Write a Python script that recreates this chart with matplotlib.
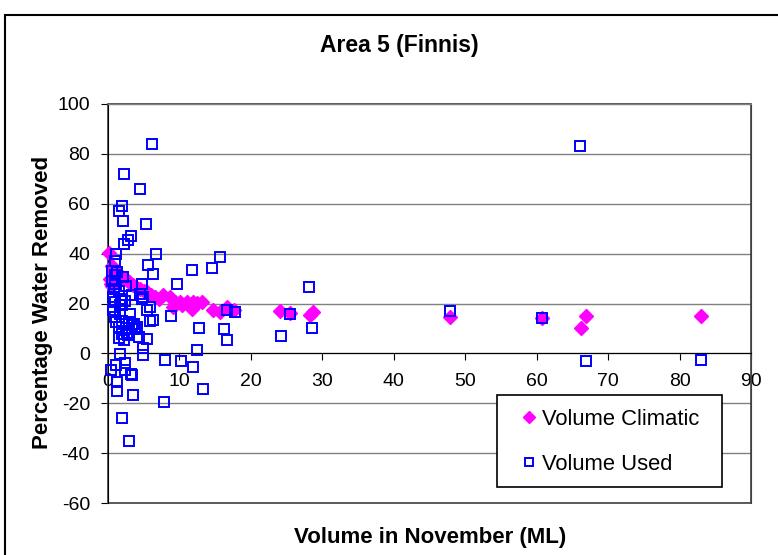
import matplotlib
matplotlib.use("Agg")
import matplotlib.pyplot as plt
from matplotlib.patches import Rectangle

# Volume Climatic (magenta diamonds)
clim_x = [0.1, 0.5, 0.7, 1.0, 1.2, 1.7, 2.2, 2.6, 3.0, 3.5, 4.0, 4.5, 5.0, 5.4,
          6.0, 6.6, 7.2, 7.7, 8.7, 9.1, 9.4, 10.1, 10.3, 11.0, 11.7, 11.9, 12.5,
          13.2, 14.7, 15.7, 16.6, 17.6, 24.1, 25.5, 28.3, 28.7, 47.9, 60.7, 66.2,
          66.9, 83.0, 0.3, 0.4, 0.6, 0.8, 1.3]
clim_y = [40.3, 35.0, 33.0, 32.5, 31.8, 31.3, 30.3, 29.3, 28.5, 27.3, 26.2, 25.9,
          25.0, 24.6, 23.5, 22.6, 22.0, 23.3, 22.6, 18.6, 20.6, 20.6, 19.5, 20.6,
          17.9, 20.6, 20.2, 20.6, 17.2, 16.4, 18.6, 17.4, 17.0, 16.2, 15.4, 16.5,
          14.5, 14.0, 10.1, 14.8, 14.8, 30.0, 28.0, 27.0, 29.0, 28.5]

# Volume Used (blue hollow squares)
used_x = [6.1, 66.1, 2.3, 4.5, 1.9, 1.6, 2.1, 5.3, 3.2, 2.8, 2.3, 1.1, 6.7, 1.0,
          5.6, 15.7, 11.7, 14.6, 6.3, 9.6, 28.2, 47.9, 60.7, 66.9, 83.0, 25.5,
          16.6, 17.8, 24.2, 28.6, 16.2, 16.6, 12.7, 12.5, 10.2, 8.0, 11.9, 13.3,
          7.9, 3.5, 1.9, 2.9, 1.3, 1.2, 0.4, 1.1, 2.4, 2.4, 3.2, 3.4, 1.7, 4.9,
          4.9, 5.4, 4.4, 2.8, 2.2, 1.5, 3.8, 3.4, 2.6, 1.9, 1.1, 1.0, 1.7, 3.1,
          3.6, 4.1, 8.8, 5.9, 6.3, 5.9, 5.5, 4.7, 4.5, 3.4, 4.9, 1.0, 0.7, 1.9,
          0.7, 1.7, 4.7, 1.0, 1.0, 2.1, 0.8, 1.5, 0.5, 2.5, 1.8, 0.6, 1.3, 2.4,
          3.0, 2.0, 2.5, 1.5]
used_y = [84.0, 83.0, 72.0, 66.0, 59.0, 57.0, 53.0, 52.0, 47.0, 45.5, 44.0, 40.0,
          40.0, 37.0, 35.3, 38.6, 33.6, 34.3, 31.7, 27.8, 26.6, 17.0, 14.0, -3.2,
          -2.8, 15.8, 17.5, 16.6, 7.1, 10.0, 9.6, 5.2, 10.2, 1.2, -2.9, -2.8, -5.6,
          -14.3, -19.5, -16.7, -25.9, -35.2, -15.0, -11.5, -6.5, -4.8, -3.8, -6.8,
          -8.4, -8.8, -0.3, -0.8, 2.3, 5.9, 6.5, 7.2, 5.2, 6.0, 9.9, 11.3, 8.3,
          7.9, 12.6, 14.6, 15.9, 15.9, 11.9, 10.5, 15.1, 18.6, 13.5, 13.0, 17.2,
          22.0, 24.0, 23.3, 22.6, 20.6, 22.6, 19.2, 17.2, 19.5, 27.7, 28.0, 31.3,
          30.6, 26.0, 25.0, 29.0, 27.0, 22.0, 33.0, 32.5, 21.0, 12.5, 13.0, 10.0,
          10.5]

x_ticks = list(range(0, 91, 10))
y_ticks = list(range(-60, 101, 20))

plt.rcParams.update({'font.family': ['Liberation Sans', 'DejaVu Sans']})
plt.rcParams['axes.unicode_minus'] = False

fig = plt.figure(figsize=(7.78, 5.55), dpi=100)
ax = fig.add_axes([108 / 778, 1 - 503 / 555, 643 / 778, 399 / 555])

ax.plot(clim_x, clim_y, linestyle='none', marker='D', markersize=7.2,
        color='#FF00FF', markeredgecolor='#FF00FF', label='Volume Climatic',
        zorder=3, clip_on=False)
ax.plot(used_x, used_y, linestyle='none', marker='s', markersize=7,
        markerfacecolor='none', markeredgecolor='#0000FF', markeredgewidth=1.4,
        label='Volume Used', zorder=4, clip_on=False)

ax.set_xlim(0, 90)
ax.set_ylim(-60, 100)
ax.set_xticks(x_ticks)
ax.set_yticks(y_ticks)
ax.yaxis.grid(True, color='#808080', linewidth=1)
ax.set_axisbelow(True)

ax.spines['bottom'].set_position(('data', 0))
ax.spines['bottom'].set_color('black')
ax.spines['left'].set_color('black')
ax.spines['top'].set_color('#808080')
ax.spines['right'].set_color('#404040')
ax.add_patch(Rectangle((0, 0), 1, 1, transform=ax.transAxes, fill=False,
                       edgecolor='#404040', linewidth=1.2, clip_on=False, zorder=1))
ax.tick_params(axis='both', direction='out', length=5, labelsize=14, color='black')
ax.tick_params(axis='x', pad=9)
ax.tick_params(axis='y', pad=8)

fig.text(399 / 778, 1 - 45 / 555, 'Area 5 (Finnis)', ha='center', va='center',
         fontsize=16.5, fontweight='bold')
fig.text(430 / 778, 1 - 537 / 555, 'Volume in November (ML)', ha='center', va='center',
         fontsize=16, fontweight='bold')
fig.text(43 / 778, 1 - 302 / 555, 'Percentage Water Removed', ha='center', va='center',
         rotation=90, fontsize=16, fontweight='bold')

# outer chart frame, clipped by the image edges
fig.patches.append(Rectangle((5 / 778, -0.1), 1.2, 1.1 - 15 / 555,
                             transform=fig.transFigure, fill=False,
                             edgecolor='black', linewidth=1.5))

# legend box drawn separately so the padding matches
ax.add_patch(Rectangle((497 / 778, 1 - 487 / 555), 225 / 778, 92 / 555,
                       transform=fig.transFigure, facecolor='white',
                       edgecolor='black', linewidth=1.2, clip_on=False, zorder=6))
leg = ax.legend(loc='upper left', bbox_to_anchor=(524 / 778, 1 - 409 / 555),
                bbox_transform=fig.transFigure, fontsize=15.8, frameon=False,
                labelspacing=1.08, handlelength=0.5, handletextpad=0.3,
                borderpad=0, borderaxespad=0, markerscale=0.9)
leg.set_zorder(7)

fig.savefig('out.png', dpi=100)
